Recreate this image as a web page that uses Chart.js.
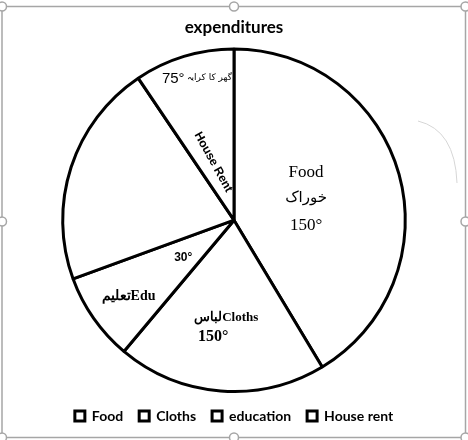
<!DOCTYPE html>
<html>
<head>
<meta charset="utf-8">
<script src="https://cdn.jsdelivr.net/npm/chart.js@4.4.0/dist/chart.umd.min.js"></script>
<style>
    html, body { margin: 0; padding: 0; background: #fff; }
    #wrap { width: 468px; height: 440px; }
</style>
</head>
<body>
<div id="wrap"><canvas id="pieChart" width="468" height="440"></canvas></div>
<script>
// Slice sizes in degrees (clockwise from 12 o'clock)
const categories = ['Food', 'Cloths', 'education', 'House rent', ''];
const degrees = [149, 71, 30, 76, 34];

// Hand-written notes inside the slices
// t = how far along the slice's sweep, r = fraction of the radius
const sliceNotes = [
    { slice: 0, t: 0.49, r: 0.44, lines: [
        { text: 'Food', font: '17px "Liberation Serif"', dy: -26 },
        { text: 'خوراک', font: '15px "DejaVu Sans"', dy: 0 },
        { text: '150°', font: '17px "Liberation Serif"', dy: 27 }
    ] },
    { slice: 1, t: 0.54, r: 0.63, lines: [
        { text: 'لباسCloths', font: 'bold 13px "Liberation Serif"', dx: 6, dy: -10 },
        { text: '150°', font: 'bold 16px "Liberation Serif"', dx: -7, dy: 10 }
    ] },
    { slice: 2, t: 0.44, r: 0.37, lines: [
        { text: '30°', font: 'bold 12px "Liberation Sans"' }
    ] },
    { slice: 2, t: 0.47, r: 0.76, lines: [
        { text: 'تعلیمEdu', font: 'bold 14px "Liberation Serif"' }
    ] },
    { slice: 4, t: 0.57, r: 0.85, lines: [
        { text: '75°', font: '15px "Liberation Sans"', dx: -24 },
        { text: 'گھر کا کرایہ', font: '9px "DejaVu Sans"', dx: 12, dy: -2 }
    ] },
    { slice: 4, t: 0.42, r: 0.36, rotate: 61, lines: [
        { text: 'House Rent', font: 'bold 12px "Liberation Sans"' }
    ] }
];

const sliceNotesPlugin = {
    id: 'sliceNotes',
    afterDatasetsDraw(chart) {
        const arcs = chart.getDatasetMeta(0).data;
        const ctx = chart.ctx;
        ctx.save();
        ctx.fillStyle = '#000';
        ctx.textAlign = 'center';
        ctx.textBaseline = 'middle';
        sliceNotes.forEach(note => {
            const arc = arcs[note.slice];
            const a = arc.startAngle + (arc.endAngle - arc.startAngle) * note.t;
            const x = arc.x + Math.cos(a) * arc.outerRadius * note.r;
            const y = arc.y + Math.sin(a) * arc.outerRadius * note.r;
            ctx.save();
            ctx.translate(x, y);
            if (note.rotate) ctx.rotate(note.rotate * Math.PI / 180);
            note.lines.forEach(line => {
                ctx.font = line.font;
                ctx.fillText(line.text, line.dx || 0, line.dy || 0);
            });
            ctx.restore();
        });
        ctx.restore();
    }
};

// Selection frame with handles, as in the screenshot
const framePlugin = {
    id: 'frame',
    afterDraw(chart) {
        const ctx = chart.ctx;
        const w = chart.width, h = chart.height;
        const left = 2, right = w - 2.5, top = 6.5, bottom = h - 2.5, midY = 221.5;
        ctx.save();
        ctx.strokeStyle = '#a6a6a6';
        ctx.lineWidth = 1.5;
        ctx.strokeRect(left, top, right - left, bottom - top);

        // faint rotate arc on the right
        ctx.strokeStyle = '#d6d6d6';
        ctx.lineWidth = 1;
        ctx.beginPath();
        ctx.moveTo(418, 121);
        ctx.quadraticCurveTo(455, 130, 457, 183);
        ctx.stroke();

        const handles = [
            [left, top], [w / 2, top], [right, top],
            [left, midY], [right, midY],
            [left, bottom], [w / 2, bottom], [right, bottom]
        ];
        ctx.fillStyle = '#fff';
        ctx.strokeStyle = '#a6a6a6';
        ctx.lineWidth = 1.5;
        handles.forEach(([hx, hy]) => {
            ctx.beginPath();
            ctx.arc(hx, hy, 4.5, 0, Math.PI * 2);
            ctx.fill();
            ctx.stroke();
        });
        ctx.restore();
    }
};

const baseLabels = Chart.overrides.doughnut.plugins.legend.labels.generateLabels;

new Chart(document.getElementById('pieChart'), {
    type: 'pie',
    data: {
        labels: categories,
        datasets: [{
            data: degrees,
            backgroundColor: '#ffffff',
            borderColor: '#000000',
            borderWidth: 3
        }]
    },
    options: {
        responsive: false,
        animation: false,
        events: [],
        layout: { padding: { bottom: 7 } },
        plugins: {
            title: {
                display: true,
                text: 'expenditures',
                color: '#000',
                font: { family: 'Lato', size: 17, weight: 'bold' },
                padding: { top: 17, bottom: 10 }
            },
            legend: {
                position: 'bottom',
                labels: {
                    color: '#000',
                    font: { family: 'Lato', size: 14, weight: 'bold' },
                    boxWidth: 10,
                    boxHeight: 10,
                    padding: 16,
                    filter: item => item.text !== '',
                    generateLabels: chart => baseLabels(chart).map(l => ({ ...l, lineWidth: 3 }))
                }
            },
            tooltip: { enabled: false }
        }
    },
    plugins: [sliceNotesPlugin, framePlugin]
});
</script>
</body>
</html>
